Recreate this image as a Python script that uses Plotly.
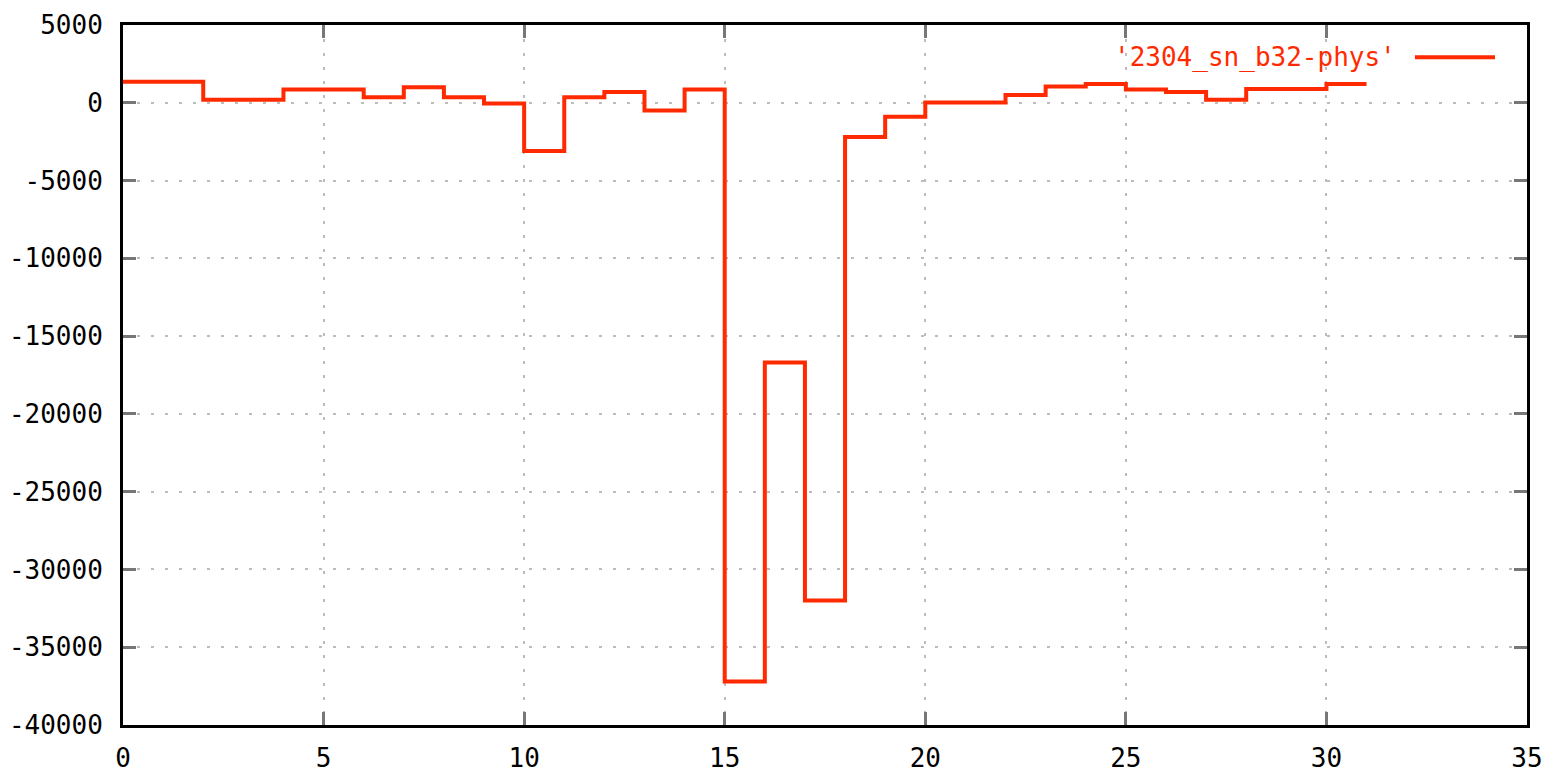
import plotly.graph_objects as go

# Per-bin values of the 2304_sn_b32-phys series (drawn as steps)
bins = list(range(32))
values = [1350, 1350, 200, 200, 850, 850, 350, 1000, 350, -50,
          -3100, 350, 700, -500, 850, -37200, -16700, -32000, -2200, -900,
          20, 20, 500, 1050, 1200, 850, 700, 200, 880, 880,
          1200, 1200]

series_name = "'2304_sn_b32-phys'"
x_ticks = [0, 5, 10, 15, 20, 25, 30, 35]
y_ticks = [5000, 0, -5000, -10000, -15000, -20000, -25000, -30000, -35000, -40000]
y_tick_text = ["5000", "0", "-5000", "-10000", "-15000", "-20000",
               "-25000", "-30000", "-35000", "-40000"]

line_color = "#ff2a00"
mono = "DejaVu Sans Mono"

fig = go.Figure()
fig.add_trace(go.Scatter(
    x=bins, y=values, mode="lines",
    line=dict(color=line_color, width=4, shape="hv"),
    name=series_name, showlegend=False,
))

axis_common = dict(
    showline=True, linecolor="black", linewidth=3, mirror="ticks",
    ticks="inside", ticklen=13, tickwidth=3, tickcolor="#777777",
    showgrid=True, gridcolor="#bdbdbd", gridwidth=2, griddash="3px,11px",
    zeroline=False, automargin=False,
    tickfont=dict(family=mono, size=26, color="black"),
)

fig.update_xaxes(range=[0, 35], tickvals=x_ticks, ticklabelstandoff=8, **axis_common)
fig.update_yaxes(range=[-40000, 5000], tickvals=y_ticks, ticktext=y_tick_text,
                 ticklabelstandoff=12, **axis_common)

# Key: title text followed by a line sample, top right inside the frame
fig.add_annotation(
    xref="paper", yref="paper", x=0.908, y=0.954,
    xanchor="right", yanchor="middle", showarrow=False,
    text=series_name, font=dict(family=mono, size=26, color=line_color),
)
fig.add_shape(
    type="line", xref="paper", yref="paper",
    x0=0.9202, x1=0.9772, y0=0.954, y1=0.954,
    line=dict(color=line_color, width=4),
)

fig.update_layout(
    width=1547, height=773,
    margin=dict(l=123, r=20, t=25, b=48),
    paper_bgcolor="white", plot_bgcolor="white",
)

fig.write_html("out.html")
